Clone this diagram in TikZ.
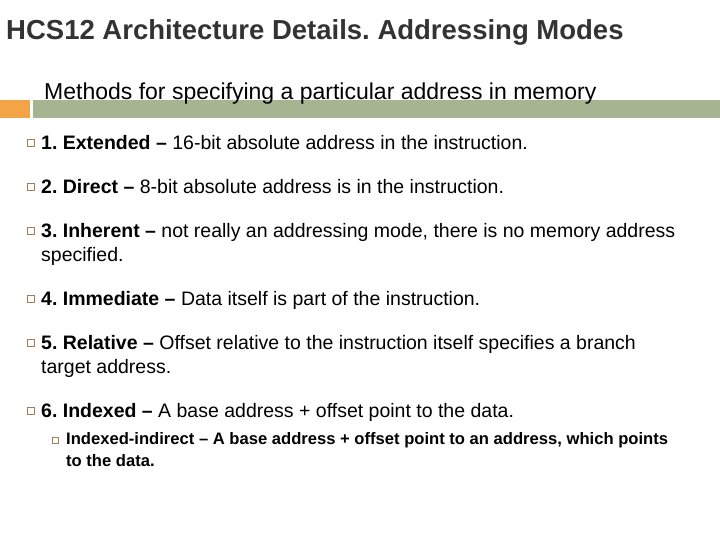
\documentclass[tikz,border=0pt]{standalone}
\usepackage{fontspec}
\setmainfont{Liberation Sans}
\definecolor{olivebar}{HTML}{A5B592}
\definecolor{orangebar}{HTML}{F3A447}
\definecolor{bulcol}{HTML}{A08050}
\begin{document}
\frenchspacing
\begin{tikzpicture}[x=1pt,y=-1pt,
  bul/.style={draw=bulcol,line width=0.6pt,minimum size=7pt,inner sep=0pt},
  txt/.style={anchor=north west,inner sep=0pt,font=\fontsize{19.5}{24}\selectfont,align=left}]
\useasboundingbox (0,0) rectangle (720,540);
\node[anchor=west,inner sep=0pt,font=\fontsize{27.5}{30}\selectfont\bfseries,text=black!80] (title) at (6,32) {HCS12 Architecture Details. Addressing Modes};
\fill[orangebar] (0,100) rectangle (30,118);
\fill[olivebar] (33,100) rectangle (720,118);
\node[anchor=west,inner sep=0pt,font=\fontsize{23}{26}\selectfont] (sub) at (44,94) {Methods for specifying a particular address in memory};
\foreach \n/\y/\t in {
 a/135/{\textbf{1. Extended –} 16-bit absolute address in the instruction.},
 b/179/{\textbf{2. Direct –} 8-bit absolute address is in the instruction.},
 c/223/{\textbf{3. Inherent –} not really an addressing mode, there is no memory address\\specified.},
 d/291/{\textbf{4. Immediate –} Data itself is part of the instruction.},
 e/335/{\textbf{5. Relative –} Offset relative to the instruction itself specifies a branch\\target address.},
 f/403/{\textbf{6. Indexed –} A base address + offset point to the data.}}{
  \node[bul] (b\n) at (31,\y+8) {};
  \node[txt] (t\n) at (41,\y) {\t};
}
\node[bul,minimum size=6pt] (bg) at (55,440) {};
\node[anchor=north west,inner sep=0pt,font=\fontsize{16.6}{22}\selectfont\bfseries,align=left] (tg) at (66,432) {Indexed-indirect – A base address + offset point to an address, which points\\to the data.};
\end{tikzpicture}
\end{document}
